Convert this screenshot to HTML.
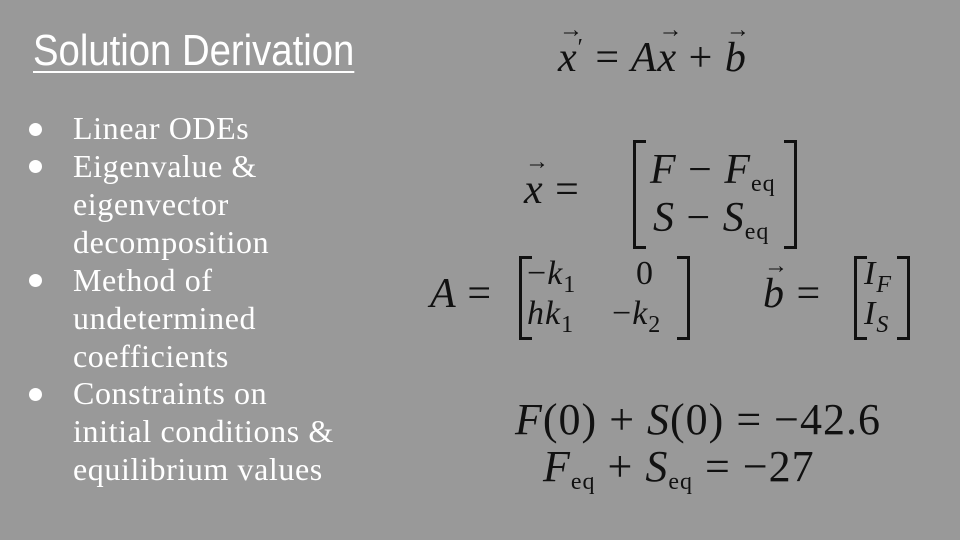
<!DOCTYPE html>
<html><head><meta charset="utf-8">
<style>
html,body{margin:0;padding:0}
body{width:960px;height:540px;background:#999999;position:relative;overflow:hidden}
.t{position:absolute;white-space:nowrap}
#title{left:33px;top:26px;font-family:"Liberation Sans Narrow","Liberation Sans",sans-serif;font-size:44px;color:#fff;text-decoration:underline;text-decoration-thickness:2px;text-underline-offset:6px;transform:scaleX(0.87);transform-origin:left}
.b{font-family:"Liberation Serif",serif;font-size:32px;letter-spacing:0.6px;color:#fff;line-height:38px}
.dot{position:absolute;width:13px;height:13px;border-radius:50%;background:#fff}
.m{font-family:"Liberation Serif",serif;font-style:italic;font-size:42px;letter-spacing:1px;color:#111}
.n{font-style:normal}
.sub{font-size:24px;font-style:normal;vertical-align:-8px}
.vec{position:relative;display:inline-block}
.vec::before{content:"→";position:absolute;left:1px;top:-17px;font-size:24px;font-style:normal}
.br{position:absolute;border:3px solid #111;width:10px}
.brl{border-right:none}
.brr{border-left:none}
.e{font-size:34px}
</style></head><body>
<div class="t" id="title">Solution Derivation</div>

<div>
<div class="dot" style="left:29px;top:123px"></div>
<div class="t b" style="left:73px;top:109px">Linear ODEs</div>
<div class="dot" style="left:29px;top:160px"></div>
<div class="t b" style="left:73px;top:147px">Eigenvalue &amp;<br>eigenvector<br>decomposition</div>
<div class="dot" style="left:29px;top:274px"></div>
<div class="t b" style="left:73px;top:261px">Method of<br>undetermined<br>coefficients</div>
<div class="dot" style="left:29px;top:388px"></div>
<div class="t b" style="left:73px;top:374px">Constraints on<br>initial conditions &amp;<br>equilibrium values</div>
</div>

<div class="t m" style="left:558px;top:34px"><span class="vec">x</span><span class="n" style="font-size:24px;vertical-align:16px">′</span> <span class="n">=</span> A<span class="vec">x</span> <span class="n">+</span> <span class="vec">b</span></div>

<div>
<div class="t m" style="left:524px;top:166px"><span class="vec">x</span> <span class="n">=</span></div>
<div class="br brl" style="left:633px;top:140px;height:103px"></div>
<div class="br brr" style="left:784px;top:140px;height:103px"></div>
<div class="t m" style="left:650px;top:146px">F <span class="n">−</span> F<span class="sub">eq</span></div>
<div class="t m" style="left:653px;top:194px">S <span class="n">−</span> S<span class="sub">eq</span></div>
</div>

<div>
<div class="t m" style="left:430px;top:270px">A <span class="n">=</span></div>
<div class="br brl" style="left:519px;top:256px;height:78px"></div>
<div class="br brr" style="left:677px;top:256px;height:78px"></div>
<div class="t m e" style="left:527px;top:255px"><span class="n">−</span>k<span class="sub">1</span></div>
<div class="t m e" style="left:636px;top:255px"><span class="n">0</span></div>
<div class="t m e" style="left:527px;top:295px">hk<span class="sub">1</span></div>
<div class="t m e" style="left:612px;top:295px"><span class="n">−</span>k<span class="sub">2</span></div>
</div>

<div>
<div class="t m" style="left:763px;top:270px"><span class="vec">b</span> <span class="n">=</span></div>
<div class="br brl" style="left:854px;top:256px;height:78px"></div>
<div class="br brr" style="left:897px;top:256px;height:78px"></div>
<div class="t m e" style="left:864px;top:255px">I<span class="sub" style="font-style:italic">F</span></div>
<div class="t m e" style="left:864px;top:295px">I<span class="sub" style="font-style:italic">S</span></div>
</div>

<div class="t m" style="left:515px;top:394px;font-size:44px">F<span class="n">(0) + </span>S<span class="n">(0) = −42.6</span></div>
<div class="t m" style="left:543px;top:441px;font-size:44px">F<span class="sub">eq</span> <span class="n">+</span> S<span class="sub">eq</span> <span class="n">= −27</span></div>
</body></html>
